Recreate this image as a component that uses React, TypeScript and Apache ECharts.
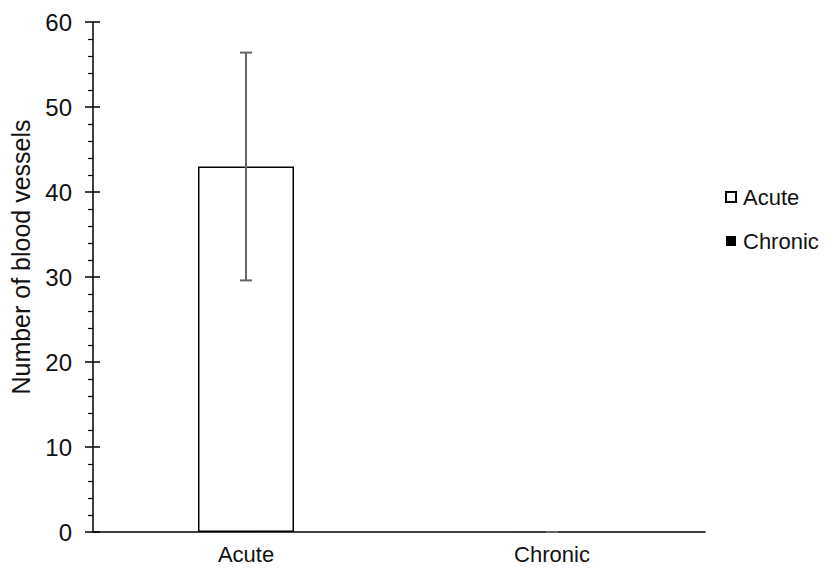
import React, { useEffect, useRef } from "react";
import * as echarts from "echarts";

const categories = ["Acute", "Chronic"];
const meanValues = [43.0, 0];
const errorLow = [29.6, 0];
const errorHigh = [56.4, 0];
const yTicks = [0, 10, 20, 30, 40, 50, 60];
const yAxisTitle = "Number of blood vessels";

export default function App() {
  const ref = useRef<HTMLDivElement>(null);
  useEffect(() => {
    if (!ref.current) return;
    const chart = echarts.init(ref.current, undefined, { renderer: "svg" });
    const font = "'Liberation Sans', Arial, sans-serif";
    const errData = categories.map((_, i) => [i, errorLow[i], errorHigh[i]]);
    chart.setOption({
      animation: false,
      backgroundColor: "#fff",
      textStyle: { fontFamily: font },
      grid: { left: 93, right: 128, top: 22, bottom: 38, containLabel: false, outerBoundsMode: "none" },
      legend: {
        data: ["Acute", "Chronic"],
        orient: "vertical",
        left: 720,
        top: 181,
        itemWidth: 10,
        itemHeight: 10,
        itemGap: 22,
        icon: "rect",
        selectedMode: false,
        textStyle: { fontFamily: font, fontSize: 22, color: "#111", padding: [0, 0, 0, 2] },
      },
      graphic: [
        {
          type: "text",
          x: 21,
          y: 257,
          rotation: Math.PI / 2,
          style: {
            text: yAxisTitle,
            font: `25px ${font}`,
            fill: "#111",
            textAlign: "center",
            textVerticalAlign: "middle",
          },
        },
      ],
      xAxis: {
        type: "category",
        data: categories,
        axisLine: { lineStyle: { color: "#000", width: 1.5 } },
        axisTick: { show: false },
        axisLabel: { fontFamily: font, fontSize: 22, color: "#111", margin: 11 },
      },
      yAxis: [
        {
          type: "value",
          min: 0,
          max: 60,
          interval: 10,
          axisLine: { show: true, lineStyle: { color: "#000", width: 1.5 } },
          axisTick: { show: true, length: 8, lineStyle: { color: "#000", width: 1.5 } },
          minorTick: { show: true, splitNumber: 5, length: 5, lineStyle: { color: "#000", width: 1.2 } },
          splitLine: { show: false },
          axisLabel: {
            fontFamily: font,
            fontSize: 24,
            color: "#111",
            margin: 21,
            formatter: (v: number) => (yTicks.includes(v) ? String(v) : ""),
          },
        },
        {
          type: "value",
          min: 0,
          max: 60,
          interval: 10,
          position: "left",
          axisLine: { show: false },
          axisTick: { show: true, inside: true, length: 7, lineStyle: { color: "#000", width: 1.5 } },
          axisLabel: { show: false },
          splitLine: { show: false },
        },
      ],
      series: [
        {
          name: "Acute",
          type: "bar",
          stack: "s",
          barWidth: 96,
          data: [meanValues[0], "-"],
          itemStyle: { color: "#fff", borderColor: "#000", borderWidth: 1.5 },
        },
        {
          name: "Chronic",
          type: "bar",
          stack: "s",
          barWidth: 96,
          data: ["-", meanValues[1]],
          itemStyle: { color: "#000", borderColor: "#000", borderWidth: 0 },
        },
        {
          name: "err",
          type: "custom",
          z: 5,
          data: errData,
          encode: { x: 0, y: [1, 2] },
          renderItem: (params: any, api: any) => {
            const x = api.value(0);
            const top = api.coord([x, api.value(2)]);
            const bot = api.coord([x, api.value(1)]);
            const hw = 6;
            const st = { stroke: "#666", lineWidth: 2 };
            return {
              type: "group",
              children: [
                { type: "line", shape: { x1: top[0], y1: top[1], x2: bot[0], y2: bot[1] }, style: st },
                { type: "line", shape: { x1: top[0] - hw, y1: top[1], x2: top[0] + hw, y2: top[1] }, style: st },
                { type: "line", shape: { x1: bot[0] - hw, y1: bot[1], x2: bot[0] + hw, y2: bot[1] }, style: st },
              ],
            };
          },
        },
      ],
    });
    return () => chart.dispose();
  }, []);
  return <div ref={ref} style={{ width: 833, height: 570, position: "absolute", left: 0, top: 0 }} />;
}
